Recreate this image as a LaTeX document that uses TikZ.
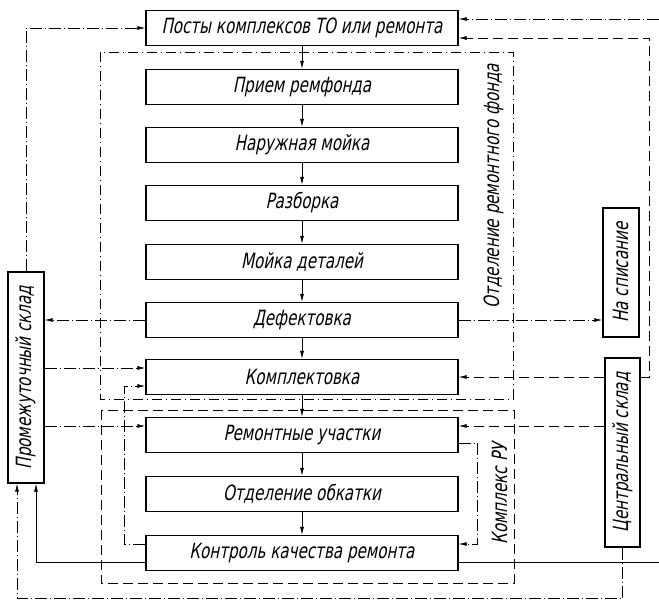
\documentclass[tikz,border=0pt]{standalone}
\usepackage{fontspec}
\newfontfamily\gost{DejaVu Sans Condensed}[FakeStretch=0.8,FakeSlant=0.2]
\usetikzlibrary{arrows.meta}

\begin{document}
\begin{tikzpicture}[
		x=1pt, y=-1pt,
		box/.style={rectangle, draw, line width=1.4pt, minimum width=312pt, minimum height=35pt, inner sep=0pt, font=\gost\fontsize{21}{24}\selectfont},
		vbox/.style={rectangle, draw, line width=1.4pt, minimum width=36pt, inner sep=0pt, font=\gost\fontsize{21}{24}\selectfont},
		title/.style={rotate=90, inner sep=0pt, font=\gost\fontsize{21}{24}\selectfont},
		link/.style={line width=0.7pt, dash pattern=on 12pt off 3pt on 1pt off 3pt},
		dlink/.style={line width=0.7pt, dash pattern=on 10pt off 5pt},
		solidlink/.style={line width=0.7pt},
		arrow/.style={-{Latex[length=8pt,width=4pt]}},
		frame/.style={line width=0.8pt, dash pattern=on 10pt off 4pt on 1pt off 4pt},
		frameru/.style={line width=0.8pt, dash pattern=on 10pt off 5pt}
		]
		
		\useasboundingbox (0,0) rectangle (659,601);
		
		% Frames
		\draw[frame] (100,52) rectangle (513,399);
		\draw[frameru] (101,410) rectangle (514,583);
		\node[title] (fond) at (494,186) {Отделение ремонтного фонда};
		\node[title] (ru) at (500,494) {Комплекс РУ};
		
		% Nodes
		\node[box] (posty) at (302,28) {Посты комплексов ТО или ремонта};
		\node[box] (priem) at (302,87) {Прием ремфонда};
		\node[box] (moika) at (302,145) {Наружная мойка};
		\node[box] (razb) at (302,203) {Разборка};
		\node[box] (moikad) at (302,262) {Мойка деталей};
		\node[box] (defekt) at (302,320) {Дефектовка};
		\node[box] (kompl) at (302,377) {Комплектовка};
		\node[box] (remont) at (302,435) {Ремонтные участки};
		\node[box] (obkat) at (302,494) {Отделение обкатки};
		\node[box] (kontrol) at (302,553) {Контроль качества ремонта};
		
		\node[vbox, minimum height=211pt] (sklad) at (26,377.5) {\rotatebox{90}{Промежуточный склад}};
		\node[vbox, minimum height=129pt] (spis) at (621,272.5) {\rotatebox{90}{На списание}};
		\node[vbox, minimum width=35pt, minimum height=189pt] (centr) at (622.5,452.5) {\rotatebox{90}{Центральный склад}};
		
		\coordinate (in) at (659,19);
		\coordinate (out) at (659,562);
		
		% Edges
		\foreach \a/\b in {posty/priem, priem/moika, moika/razb, razb/moikad, moikad/defekt, defekt/kompl, kompl/remont, remont/obkat, obkat/kontrol}
		\draw[solidlink, arrow] (\a) -- (\b);
		
		\draw[link, arrow] (sklad.north) |- (posty.west);
		\draw[link, arrow] (in) -- ([yshift=9pt]posty.east);
		\draw[dlink, arrow] (centr.east |- kompl.east) -- ++(9,0) |- ([yshift=-10pt]posty.east);
		
		\draw[link, arrow] (defekt.west) -- (defekt.west -| sklad.east);
		\draw[link, arrow] (defekt.east) -- (defekt.east -| spis.west);
		
		\draw[link, arrow] ([yshift=9pt]kompl.west -| sklad.east) -- ([yshift=9pt]kompl.west);
		\draw[link, arrow] ([yshift=9pt]kontrol.west) -- ++(-21,0) |- ([yshift=-9pt]kompl.west);
		\draw[dlink, arrow] (kompl.east -| centr.west) -- (kompl.east);
		
		\draw[link, arrow] ([yshift=9pt]remont.west -| sklad.east) -- ([yshift=9pt]remont.west);
		\draw[dlink, arrow] ([yshift=9pt]remont.east -| centr.west) -- ([yshift=9pt]remont.east);
		\draw[link, arrow] ([yshift=-8pt]remont.east) -- ++(19,0) |- ([yshift=9pt]kontrol.east);
		
		\draw[solidlink, arrow] ([yshift=-9pt]kontrol.west) -| ([xshift=10pt]sklad.south);
		\draw[solidlink] ([yshift=-9pt]kontrol.east) -- (out);
		\draw[link, arrow] (centr.south) -- ++(0,51) -| ([xshift=-9pt]sklad.south);
		
	\end{tikzpicture}
\end{document}
